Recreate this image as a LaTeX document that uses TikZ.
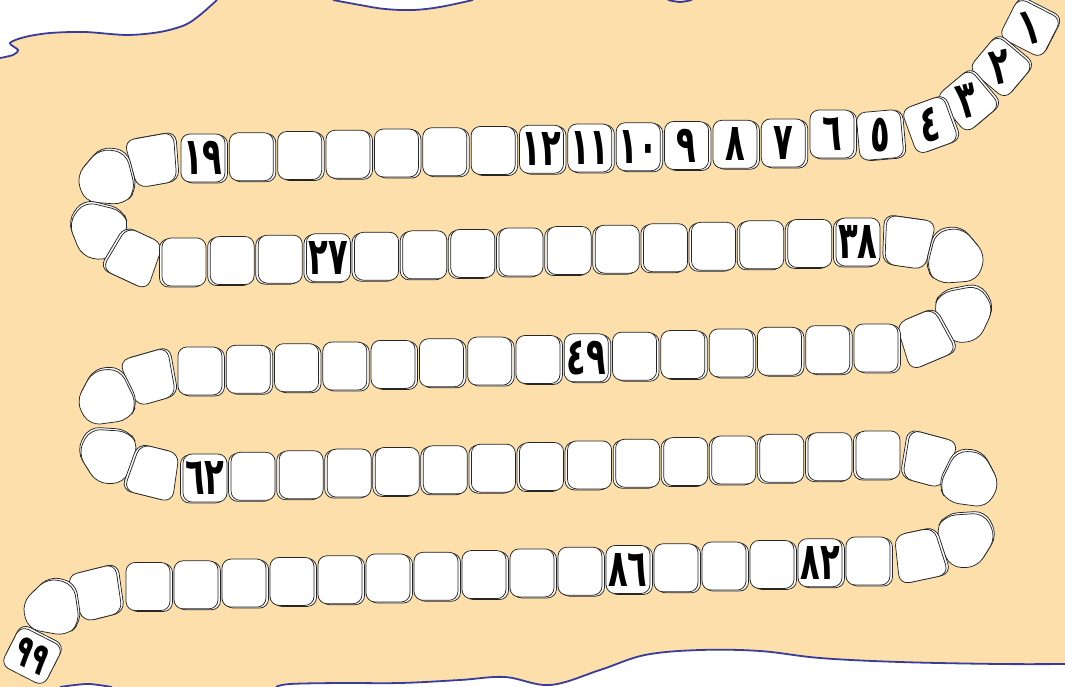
\documentclass[tikz,border=0pt]{standalone}
\usepackage{fontspec}
\newfontfamily\arabicfont[Script=Arabic, FakeStretch=0.62]{DejaVu Sans}
\definecolor{sand}{HTML}{FDDFAB}
\definecolor{coastblue}{HTML}{3A3C9C}
\tikzset{
  coast/.style={draw=coastblue, line width=1.8pt},
  tileline/.style={draw=black!85, fill=white, line width=0.75pt},
  num/.style={font=\arabicfont\bfseries\fontsize{52}{52}\selectfont, inner sep=0pt},
  numsmall/.style={font=\arabicfont\bfseries\fontsize{44}{44}\selectfont, inner sep=0pt},
  pics/sqtile/.style={code={\path[tileline, rounded corners=9pt] (-22,-24) -- (22,-24) -- (22,24) -- (-22,24) -- cycle;}},
  pics/midtile/.style={code={\path[tileline, rounded corners=10pt] (-25,-25) -- (25,-25) -- (20,24) -- (-20,24) -- cycle;}},
  pics/bendtile/.style={code={\path[tileline, rounded corners=11pt] (-9,26) -- (-32,-6) -- (-18,-29) -- (18,-29) -- (32,-6) -- (9,26) -- cycle;}}
}
% name, x, y, angle, kind, shadow x, shadow y
\newcommand{\tile}[7]{%
  \pic[rotate=#4] at (#2+#6,#3+#7) {#5};
  \pic[rotate=#4] at (#2,#3) {#5};
  \coordinate (#1) at (#2,#3);
}
\begin{document}
\begin{tikzpicture}[x=1pt, y=-1pt]
  \useasboundingbox (0,0) rectangle (1065,687);
  \fill[sand] (0,0) rectangle (1065,687);
  % white shore
  \fill[white] (0,0) -- (217,0) -- plot[smooth, tension=0.5] coordinates {(217,0) (200,15) (185,25) (160,32) (127,35) (85,32) (50,33) (25,37) (10,43) (18,50) (13,55) (0,58)} -- cycle;
  \draw[coast] plot[smooth, tension=0.5] coordinates {(217,0) (200,15) (185,25) (160,32) (127,35) (85,32) (50,33) (25,37) (10,43) (18,50) (13,55) (0,58)};
  \fill[white] plot[smooth, tension=0.6] coordinates {(333,0) (360,5) (385,9) (413,10) (440,7) (473,0)} -- cycle;
  \draw[coast] plot[smooth, tension=0.6] coordinates {(333,0) (360,5) (385,9) (413,10) (440,7) (473,0)};
  \draw[coast] plot[smooth] coordinates {(668,0) (680,2) (692,0)};
  \fill[white] plot[smooth] coordinates {(60,687) (75,685) (90,684) (112,687)} -- cycle;
  \draw[coast] plot[smooth] coordinates {(60,687) (75,685) (90,684) (112,687)};
  \fill[white] plot[smooth, tension=0.6] coordinates {(276,687) (290,684) (340,683) (400,683) (460,680) (505,677) (550,685) (600,670) (645,655) (700,650) (760,651) (820,658) (900,662) (1000,664) (1065,664)} -- (1065,687) -- cycle;
  \draw[coast] plot[smooth, tension=0.6] coordinates {(276,687) (290,684) (340,683) (400,683) (460,680) (505,677) (550,685) (600,670) (645,655) (700,650) (760,651) (820,658) (900,662) (1000,664) (1065,664)};

  % row 1
  \tile{c1}{1030}{28}{63}{sqtile}{1.5}{-2}
  \tile{c2}{1001}{67}{50}{sqtile}{1.7}{-1.8}
  \tile{c3}{968}{101}{40}{sqtile}{2}{-1.5}
  \tile{c4}{930}{125}{20}{sqtile}{2.4}{-0.8}
  \tile{c5}{880}{135}{5}{sqtile}{2.5}{0.5}
  \tile{c6}{832}{134}{0}{sqtile}{2.5}{1}
  \foreach \k in {7,...,19} {
    \pgfmathsetmacro\tx{880-48.36*(\k-5)}
    \pgfmathsetmacro\ty{143+1.25*(\k-7)}
    \tile{c\k}{\tx}{\ty}{0}{sqtile}{2.5}{1}
  }
  \tile{c20}{153}{161}{10}{midtile}{2.4}{-0.6}
  \tile{c21}{110}{181}{50}{bendtile}{1.5}{-2}
  \tile{c22}{102}{229}{112}{bendtile}{-0.8}{-2.4}
  \tile{c23}{135}{257}{155}{midtile}{-2.3}{-1}
  % row 2
  \foreach \k in {24,...,38} {
    \pgfmathsetmacro\tx{184+48.14*(\k-24)}
    \pgfmathsetmacro\ty{262-1.43*(\k-24)}
    \tile{c\k}{\tx}{\ty}{0}{sqtile}{-2.5}{1}
  }
  \tile{c39}{908}{243}{-8}{midtile}{-2.4}{-0.5}
  \tile{c40}{952}{260}{-50}{bendtile}{-1.5}{-2}
  \tile{c41}{960}{312}{-115}{bendtile}{0.8}{-2.4}
  \tile{c42}{924}{338}{-157}{midtile}{2.3}{-1}
  % row 3
  \foreach \k in {43,...,57} {
    \pgfmathsetmacro\tx{876-48.29*(\k-43)}
    \pgfmathsetmacro\ty{348+1.64*(\k-43)}
    \tile{c\k}{\tx}{\ty}{0}{sqtile}{2.5}{1}
  }
  \tile{c58}{150}{378}{16}{midtile}{2.4}{-0.8}
  \tile{c59}{110}{400}{62}{bendtile}{1.1}{-2.2}
  \tile{c60}{112}{453}{122}{bendtile}{-1.3}{-2.1}
  \tile{c61}{154}{472}{166}{midtile}{-2.4}{-0.6}
  % row 4
  \foreach \k in {62,...,76} {
    \pgfmathsetmacro\tx{205+48.07*(\k-62)}
    \pgfmathsetmacro\ty{478-1.64*(\k-62)}
    \tile{c\k}{\tx}{\ty}{0}{sqtile}{-2.5}{1}
  }
  \tile{c77}{928}{460}{-15}{midtile}{-2.4}{-0.7}
  \tile{c78}{966}{482}{-62}{bendtile}{-1}{-2.3}
  \tile{c79}{962}{537}{-122}{bendtile}{1.3}{-2.1}
  \tile{c80}{919}{555}{-168}{midtile}{2.4}{-0.6}
  % row 5
  \foreach \k in {81,...,96} {
    \pgfmathsetmacro\tx{868-48*(\k-81)}
    \pgfmathsetmacro\ty{561+1.7*(\k-81)}
    \tile{c\k}{\tx}{\ty}{0}{sqtile}{2.5}{1}
  }
  \tile{c97}{97}{594}{14}{midtile}{2.4}{-0.6}
  \tile{c98}{55}{611}{44}{bendtile}{1.8}{-1.7}
  \tile{c99}{32}{656}{63}{sqtile}{1.1}{-2.2}

  % numbers
  \node[num, rotate=15] (n1) at (c1) {١};
  \node[num, rotate=12] (n2) at (c2) {٢};
  \node[num, rotate=15] (n3) at (c3) {٣};
  \node[num, rotate=8] (n4) at (c4) {٤};
  \node[num] (n5) at (c5) {٥};
  \node[num] (n6) at (c6) {٦};
  \node[num] (n7) at (c7) {٧};
  \node[num] (n8) at (c8) {٨};
  \node[num] (n9) at (c9) {٩};
  \node[num] (n10) at (c10) {١٠};
  \node[num] (n11) at (c11) {١١};
  \node[num] (n12) at (c12) {١٢};
  \node[num] (n19) at (c19) {١٩};
  \node[num] (n27) at (c27) {٢٧};
  \node[num] (n38) at (c38) {٣٨};
  \node[num] (n49) at (c49) {٤٩};
  \node[num] (n62) at (c62) {٦٢};
  \node[num] (n82) at (c82) {٨٢};
  \node[num] (n86) at (c86) {٨٦};
  \node[numsmall, rotate=-27] (n99) at (c99) {٩٩};
\end{tikzpicture}
\end{document}
